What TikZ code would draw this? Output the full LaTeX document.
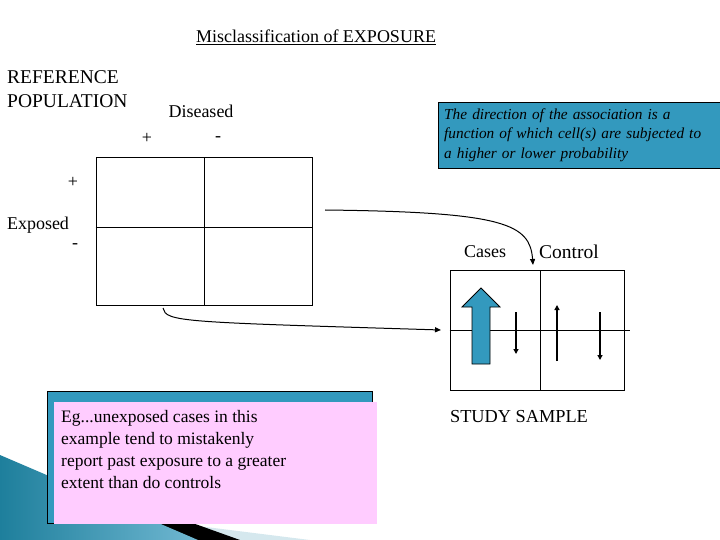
\documentclass[tikz,border=0pt]{standalone}
\usepackage{fontspec}
\setmainfont{Liberation Serif}
\usetikzlibrary{arrows.meta,positioning,calc}
\definecolor{callteal}{HTML}{3399BE}
\definecolor{notepink}{HTML}{FFCCFF}
\definecolor{swoosh}{HTML}{1E7F9C}
\definecolor{swooshlite}{HTML}{D5E8EE}

\tikzset{
  lbl/.style={inner sep=0pt,font=\fontsize{18}{22}\selectfont},
  tip/.style={-{Triangle[length=6pt,width=5pt]}},
  thinarrow/.style={line width=1.8pt,-{Triangle[length=5pt,width=5pt]}},
  tablebox/.style={draw,line width=1pt,inner sep=0pt}
}

\begin{document}
\begin{tikzpicture}[x=1pt,y=-1pt]
\useasboundingbox (0,0) rectangle (720,540);

% corner decoration
\fill[swooshlite] (150,520) -- (310,540) -- (230,540) -- cycle;
\fill[black] (50,472) -- (240,540) -- (190,540) -- cycle;
\shade[left color=swoosh,right color=callteal!70] (0,455) -- (198,540) -- (0,540) -- cycle;

% titles
\node[lbl,font=\fontsize{18}{20}\selectfont] (title) at (316,37) {\underline{Misclassification of EXPOSURE}};
\node[lbl,anchor=north west,align=left,font=\fontsize{19.5}{24}\selectfont] (refpop) at (7,70) {REFERENCE\\POPULATION};
\node[lbl] (diseased) at (201,111) {Diseased};
\node[lbl] (dplus) at (147,138) {+};
\node[lbl] (dminus) at (218,139) {-};
\node[lbl] (eplus) at (73,182) {+};
\node[lbl] (exposed) at (38,225) {Exposed};
\node[lbl] (eminus) at (75,246) {-};

% reference table
\node[tablebox,minimum width=216pt,minimum height=147pt] (reftab) at (204,231.5) {};
\draw[line width=1pt] (reftab.north) -- (reftab.south);
\draw[line width=1pt] (reftab.west |- 0,228) -- (reftab.east |- 0,228);

% callout
\node[draw,fill=callteal,anchor=north west,minimum width=290pt,minimum height=66pt,
  text width=280pt,inner sep=6pt,align=left,
  font=\fontsize{15.3}{19.5}\selectfont\itshape] (callout) at (438,102)
  {The direction of the association is a\\function of which cell(s) are subjected to\\a higher or lower probability};

% study sample
\node[lbl] (cases) at (485,252) {Cases};
\node[lbl,font=\fontsize{19.5}{22}\selectfont] (control) at (569,252) {Control};
\node[tablebox,minimum width=174pt,minimum height=120pt] (samptab) at (537,330) {};
\draw[line width=1pt] (540,270) -- (540,390);
\draw[line width=1pt] (samptab.west) -- (630,330);
\node[lbl,font=\fontsize{18.3}{20}\selectfont] (study) at (519,417) {STUDY SAMPLE};

\draw[fill=callteal,line width=0.8pt] (472,364) -- (472,307) -- (462,307) -- (481,288)
  -- (500,307) -- (490,307) -- (490,364) -- cycle;
\coordinate (a1) at (516,312);
\coordinate (a2) at (516,354);
\coordinate (b1) at (557,361);
\coordinate (b2) at (557,305);
\coordinate (c1) at (600,312);
\coordinate (c2) at (600,360);
\draw[thinarrow] (a1) -- (a2);
\draw[thinarrow] (b1) -- (b2);
\draw[thinarrow] (c1) -- (c2);

% connectors
\coordinate (up0) at (325,210);
\coordinate (up1) at (533,265);
\draw[line width=1pt,tip] (up0) .. controls (505,212) and (530,224) .. (up1);
\coordinate (lo0) at (163,308);
\coordinate (lo1) at (441,330);
\draw[line width=1pt,tip] (lo0) .. controls (166,322) and (180,322) .. (lo1);

% note
\node[draw,fill=callteal,minimum width=325pt,minimum height=132pt,anchor=north west] (noteback) at (47,391) {};
\node[fill=notepink,minimum width=323pt,minimum height=122pt,anchor=north west] (note) at (54,402) {};
\node[anchor=north west,inner sep=0pt,align=left,font=\fontsize{17.5}{22}\selectfont] (notetext) at (61,410)
  {Eg...unexposed cases in this\\example tend to mistakenly\\report past exposure to a greater\\extent than do controls};
\end{tikzpicture}
\end{document}
